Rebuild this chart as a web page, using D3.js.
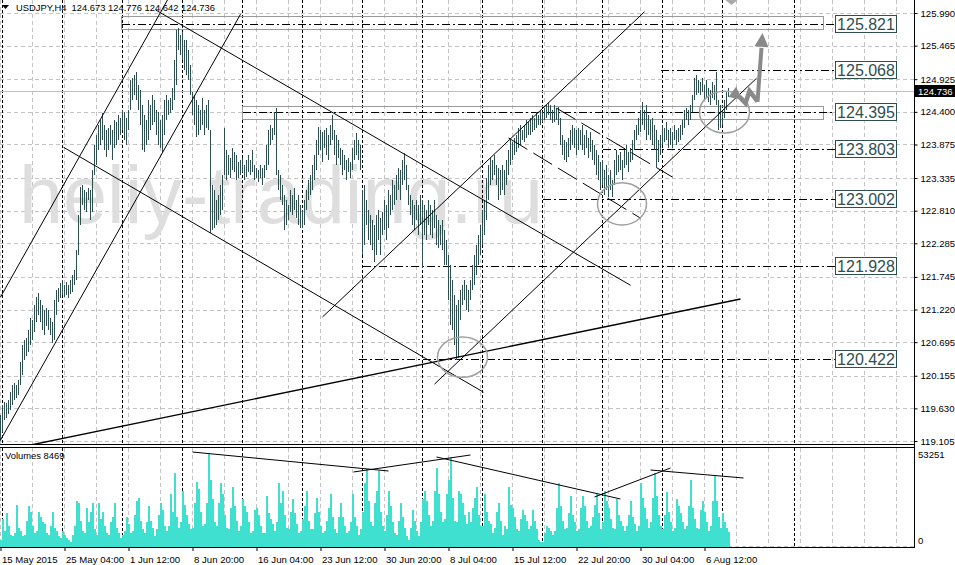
<!DOCTYPE html>
<html><head><meta charset="utf-8">
<script src="https://cdn.jsdelivr.net/npm/d3@7"></script>
<style>
html,body{margin:0;padding:0;background:#fff;}
svg{display:block;font-family:"Liberation Sans",Arial,sans-serif;}
</style></head><body>
<svg id="c" width="955" height="565"></svg>
<script>
// ---------- DATA ----------
const symbolTitle = "USDJPY,H4";
const lastOHLC = [124.673, 124.776, 124.642, 124.736];
const currentPrice = 124.736;

const highs = [
119.52,119.68,119.73,119.71,119.76,119.89,120.00,120.03,120.00,120.08,
120.37,120.65,120.73,120.76,120.89,121.08,121.05,121.29,121.42,121.48,
121.37,121.29,121.21,121.24,121.21,121.08,121.02,121.37,121.53,121.56,
121.64,121.69,121.61,121.66,121.61,121.69,121.77,121.85,122.18,122.74,
123.19,123.22,123.14,123.11,123.17,123.14,123.46,123.87,124.03,124.19,
124.27,124.38,124.19,124.11,124.14,124.19,124.11,124.27,124.24,124.35,
124.30,124.43,124.40,124.30,124.43,124.91,124.94,124.99,125.04,124.83,
124.75,124.51,124.35,124.27,124.59,124.51,124.67,124.59,124.43,124.40,
124.27,124.35,124.59,124.67,124.59,124.62,124.78,125.23,125.72,125.75,
125.64,125.69,125.56,125.56,125.40,125.15,124.72,124.67,124.59,124.51,
124.43,124.62,124.43,124.51,124.59,124.11,123.22,123.14,122.98,123.06,
123.22,123.38,124.14,123.79,123.71,123.66,123.82,123.75,123.71,123.59,
123.62,123.66,123.54,123.62,123.71,123.62,123.79,123.54,123.50,123.46,
123.54,123.50,123.54,123.87,124.11,124.19,124.14,124.40,124.46,123.46,
123.38,123.22,123.06,122.98,122.90,123.14,123.06,123.17,122.98,123.06,
122.90,122.82,122.98,123.14,123.30,123.38,123.54,123.71,123.95,124.16,
124.11,124.08,124.11,124.14,124.03,124.19,124.35,124.11,124.03,123.95,
123.82,123.79,123.71,123.62,123.66,123.59,123.82,123.95,124.06,123.95,
123.87,123.14,123.22,122.98,122.82,122.74,122.66,122.58,122.74,122.82,
122.69,122.79,122.98,122.90,123.14,123.06,123.30,123.22,123.38,123.50,
123.46,123.62,123.74,123.54,123.22,123.06,122.98,122.90,122.98,122.90,
123.06,122.98,122.90,122.82,122.98,122.90,122.82,122.98,122.74,122.66,
122.58,122.66,122.50,122.34,122.09,121.93,121.69,121.45,121.29,121.37,
121.53,121.61,121.69,121.61,121.53,121.69,121.93,122.09,122.26,122.42,
122.58,122.82,122.98,123.33,123.54,123.66,123.62,123.71,123.54,123.50,
123.46,123.54,123.46,123.62,123.79,123.95,123.91,123.98,124.03,124.14,
124.19,124.11,124.19,124.27,124.24,124.30,124.35,124.30,124.40,124.35,
124.43,124.40,124.46,124.51,124.54,124.51,124.43,124.51,124.46,124.48,
124.30,124.03,123.95,123.91,123.98,124.11,124.19,124.14,124.11,124.14,
124.11,124.19,124.03,124.11,123.98,124.08,123.95,123.87,123.79,123.71,
123.59,123.62,123.46,123.54,123.38,123.46,123.30,123.62,123.79,123.71,
123.75,123.62,123.79,123.87,123.75,123.82,123.95,124.11,124.19,124.30,
124.43,124.56,124.43,124.51,124.35,124.27,124.30,124.19,124.11,123.95,
124.03,124.19,124.14,124.24,124.11,124.14,124.08,124.19,124.11,124.14,
124.19,124.27,124.43,124.46,124.43,124.51,124.67,124.94,124.99,124.91,
124.88,124.94,124.83,124.91,124.78,124.75,124.88,124.83,125.04,124.59,
124.51,124.43,124.59,124.72,124.78
];
const lows = [
119.10,119.25,119.44,119.47,119.54,119.60,119.68,119.76,119.79,119.84,
120.00,120.16,120.40,120.48,120.53,120.65,120.73,120.86,121.02,121.13,
121.02,120.89,120.81,120.95,120.89,120.81,120.68,120.73,121.13,121.34,
121.40,121.45,121.42,121.45,121.40,121.47,121.50,121.61,121.69,122.09,
122.58,122.90,122.82,122.79,122.98,122.66,122.79,123.38,123.54,123.79,
123.87,123.95,123.79,123.67,123.79,123.87,123.62,123.82,123.87,123.95,
124.03,124.11,123.95,123.87,124.11,124.43,124.59,124.67,124.59,124.43,
124.19,123.79,123.75,123.87,123.95,124.11,124.19,124.24,124.03,123.87,
123.82,123.75,124.03,124.27,124.35,124.38,124.43,124.59,124.83,125.40,
125.32,125.23,125.07,124.99,124.91,124.67,124.35,124.19,123.99,124.03,
124.11,124.19,124.03,124.14,124.11,122.45,122.50,122.53,122.58,122.66,
122.74,122.82,123.38,123.30,123.38,123.33,123.46,123.43,123.30,123.33,
123.38,123.43,123.30,123.35,123.43,123.38,123.43,123.30,123.33,123.27,
123.33,123.22,123.33,123.46,123.54,123.87,123.95,124.03,123.38,123.14,
122.98,122.90,122.50,122.58,122.66,122.79,122.74,122.82,122.69,122.58,
122.53,122.53,122.58,122.82,122.98,123.06,123.14,123.30,123.46,123.71,
123.79,123.59,123.82,123.71,123.62,123.87,123.95,123.71,123.54,123.66,
123.54,123.38,123.46,123.30,123.43,123.33,123.46,123.62,123.71,123.62,
123.46,122.09,122.26,122.58,122.34,122.26,122.18,121.98,122.09,122.34,
122.09,122.42,122.50,122.34,122.53,122.74,122.82,122.90,122.98,123.14,
122.98,123.22,123.30,123.14,122.90,122.74,122.58,122.50,122.66,122.42,
122.58,121.89,122.42,122.34,122.58,122.42,122.37,122.53,122.26,122.21,
122.26,122.18,121.93,121.93,121.37,120.97,120.89,120.65,120.40,120.44,
121.05,121.29,121.37,121.21,121.18,121.37,121.53,121.61,121.77,121.93,
122.09,122.26,122.42,122.66,122.98,123.22,123.30,123.38,123.22,122.98,
123.06,123.14,123.06,123.22,123.38,123.54,123.62,123.71,123.75,123.82,
123.87,123.95,123.91,123.98,124.03,124.03,124.08,124.11,124.14,124.19,
124.19,124.24,124.27,124.30,124.35,124.27,124.22,124.24,124.27,124.19,
123.87,123.71,123.62,123.59,123.67,123.79,123.87,123.82,123.71,123.79,
123.87,123.79,123.71,123.82,123.66,123.75,123.62,123.54,123.38,123.30,
123.14,123.22,123.06,123.14,123.03,123.14,123.03,123.22,123.38,123.43,
123.46,123.30,123.50,123.54,123.43,123.59,123.62,123.79,123.95,124.03,
124.08,124.19,124.11,123.95,124.03,123.95,123.87,123.79,123.51,123.59,
123.71,123.87,123.91,123.95,123.82,123.87,123.82,123.95,123.87,123.91,
123.95,124.03,124.14,124.27,124.19,124.27,124.40,124.59,124.67,124.70,
124.67,124.72,124.59,124.64,124.56,124.51,124.62,124.59,124.51,124.11,
124.14,124.19,124.30,124.43,124.64
];
const volumes = [
4000,16000,9000,19000,12000,7000, 6000,8000,24000,11000,9000,6000,
7000,15000,23000,20000,12000,8000, 9000,20000,17000,14000,13000,8000,
7000,12000,20000,11000,9000,6000, 5000,9000,7000,5000,4000,3000,
7000,12000,26000,25000,15000,9000, 8000,22000,14000,20000,25000,10000,
7000,25000,16000,20000,12000,8000, 7000,14000,17000,25000,11000,8000,
5000,7000,9000,17000,13000,8000, 9000,18000,26000,28000,15000,10000,
8000,14000,23000,15000,11000,6000, 10000,18000,25000,21000,12000,9000,
12000,30000,20000,42000,17000,11000, 14000,32000,24000,18000,13000,10000,
11000,25000,37000,33000,20000,12000, 13000,25000,53251,38000,27000,14000,
12000,25000,36000,30000,18000,11000, 10000,22000,34000,23000,15000,9000,
12000,27000,23000,20000,14000,8000, 9000,21000,22000,18000,12000,8000,
8000,29000,19000,16000,13000,9000, 14000,36000,25000,32000,18000,11000,
10000,20000,27000,19000,13000,8000, 9000,16000,23000,32000,15000,10000,
10000,19000,28000,20000,12000,8000, 9000,15000,22000,30000,17000,10000,
8000,17000,25000,17000,12000,8000, 9000,14000,30000,17000,12000,7000,
10000,20000,36000,44000,26000,14000, 12000,25000,32000,43000,20000,12000,
9000,18000,32000,23000,14000,8000, 7000,15000,25000,17000,11000,6000,
4000,11000,21000,15000,9000,6000, 14000,27000,32000,26000,18000,12000,
15000,32000,45000,30000,20000,14000, 16000,30000,38000,51000,28000,15000,
14000,32000,30000,25000,18000,13000, 20000,
14000,22000,28000,34000,18000,12000, 12000,30000,20000,15000,13000,8000,
11000,20000,25000,15000,7000,12000, 10000,34000,24000,22000,17000,10000,
9000,16000,21000,18000,15000,10000, 12000,21000,15000,10000,4000,3000,
3000,8000,12000,11000,9000,7000, 9000,22000,36000,23000,15000,10000,
11000,19000,29000,18000,14000,9000, 10000,22000,29000,23000,15000,11000,
12000,17000,24000,30000,19000,10000, 14000,32000,26000,22000,16000,11000,
10000,27000,18000,15000,12000,9000, 12000,18000,26000,17000,13000,9000,
12000,36000,28000,22000,16000,11000, 14000,28000,42000,29000,18000,12000,
10000,18000,31000,20000,14000,9000, 11000,27000,23000,19000,14000,10000,
12000,23000,38000,22000,16000,11000, 10000,21000,26000,20000,14000,9000,
12000,26000,40000,26000,17000,11000, 19000,14000,11000,8469
];
const volumeMax = 53251;

const priceTicks = [125.990,125.465,124.925,124.400,123.875,123.335,122.810,122.285,121.745,121.220,120.695,120.155,119.630,119.105];
const dateLabels = ["15 May 2015","25 May 04:00","1 Jun 12:00","8 Jun 20:00","16 Jun 04:00","23 Jun 12:00","30 Jun 20:00","8 Jul 04:00","15 Jul 12:00","22 Jul 20:00","30 Jul 04:00","6 Aug 12:00"];
const dateTickBars = [0,32,64,96,128,160,192,224,256,288,320,352];
const separatorBars = [1,31,61,91,121,151,181,211,241,271,301,331,361,397];

const levelPrices = [125.821,125.068,124.395,123.803,123.002,121.928,120.422];
const levelStartBars = [60.5,330,121,301,271,181,179];
const levelEndBar = 417.25;

const zoneStartBars = [60.5,121];
const zoneEndBar = 411.25;
const zoneTops = [125.947,124.494];
const zoneBottoms = [125.728,124.280];

const trendLines = [
  [0,119.12,120,125.97],
  [0,121.42,83.5,126.20],
  [77.5,126.04,315,121.61],
  [31.5,123.83,241.5,119.89],
  [161,121.10,322,126.01],
  [217,120.02,378,124.94]
];
const supportLine = [15,119.04,370,121.39];
const dashedTrendLines = [
  [254,123.98,320,122.69],
  [278,124.46,336,123.35]
];
const volumeLines = [
  [96,53800,194,43050],
  [176.5,42490,235,52120],
  [218,51000,310,27190],
  [297,28325,335,44750],
  [325,43620,371.5,39090]
];
const ellipses = [
  [218.5,120.78,243.5,120.13],
  [298.5,123.26,323,122.58],
  [349.5,124.73,374.5,124.06]
];
const upArrow = [378.5,124.56,381,125.67];
const zigzagBars = [378.5,374.5,372.5,368,364];
const zigzagPrices = [124.57,124.735,124.54,124.69,124.64];
const topMarkBars = [362,369,365.5];
const topMarkPrices = [126.21,126.21,126.12];

// ---------- SCALES ----------
const plotRight = 914;
const priceBottom = 444, volTop = 448, volBottom = 547;
const svg = d3.select("#c");
const xScale = d3.scaleLinear().domain([0,1]).range([0.5,2.5]);
const yScale = d3.scaleLinear().domain([119.105,125.990]).range([441,13]);
const vScale = d3.scaleLinear().domain([0,volumeMax]).range([volBottom,453]);

const defs = svg.append("defs");
defs.append("clipPath").attr("id","cp").append("rect").attr("x",0).attr("y",0).attr("width",plotRight).attr("height",priceBottom);
defs.append("clipPath").attr("id","cv").append("rect").attr("x",0).attr("y",volTop).attr("width",plotRight).attr("height",volBottom-volTop);

svg.append("rect").attr("width",955).attr("height",565).attr("fill","#fff");
const gp = svg.append("g").attr("clip-path","url(#cp)");
const gv = svg.append("g").attr("clip-path","url(#cv)");

// grid
const gridBars = d3.range(0,460,16);
[[gp,0,priceBottom],[gv,volTop,volBottom]].forEach(([g,y0,y1])=>{
  g.append("g").selectAll("line").data(gridBars).join("line")
    .attr("x1",d=>xScale(d)).attr("x2",d=>xScale(d)).attr("y1",y0).attr("y2",y1)
    .attr("stroke","#c4c4c4").attr("stroke-dasharray","4,3").attr("shape-rendering","crispEdges");
});
gp.append("g").selectAll("line").data(priceTicks).join("line")
  .attr("x1",0).attr("x2",plotRight).attr("y1",d=>Math.round(yScale(d))+0.5).attr("y2",d=>Math.round(yScale(d))+0.5)
  .attr("stroke","#c4c4c4").attr("stroke-dasharray","4,3").attr("shape-rendering","crispEdges");
gv.append("line").attr("x1",0).attr("x2",plotRight).attr("y1",volBottom-0.5).attr("y2",volBottom-0.5)
  .attr("stroke","#c4c4c4").attr("stroke-dasharray","4,3");

// watermark
gp.append("text").attr("x",19).attr("y",223).attr("font-size",82).attr("fill","#dedede")
  .attr("textLength",524).attr("lengthAdjust","spacingAndGlyphs").text("heliy-trading.ru");

// separators
[[gp,0,priceBottom],[gv,volTop,volBottom]].forEach(([g,y0,y1])=>{
  g.append("g").selectAll("line").data(separatorBars).join("line")
    .attr("x1",d=>xScale(d)).attr("x2",d=>xScale(d)).attr("y1",y0).attr("y2",y1)
    .attr("stroke","#000").attr("stroke-dasharray","3,2").attr("shape-rendering","crispEdges");
});

// current price line
gp.append("line").attr("x1",0).attr("x2",plotRight)
  .attr("y1",Math.round(yScale(currentPrice))+0.5).attr("y2",Math.round(yScale(currentPrice))+0.5)
  .attr("stroke","#c0c0c0").attr("shape-rendering","crispEdges");

// zones
gp.append("g").selectAll("rect").data(zoneStartBars).join("rect")
  .attr("x",d=>xScale(d)).attr("width",(d)=>xScale(zoneEndBar)-xScale(d))
  .attr("y",(d,i)=>Math.round(yScale(zoneTops[i]))+0.5)
  .attr("height",(d,i)=>Math.round(yScale(zoneBottoms[i]))-Math.round(yScale(zoneTops[i])))
  .attr("fill","none").attr("stroke","#9a9a9a").attr("shape-rendering","crispEdges");

// level lines
gp.append("g").selectAll("line").data(levelPrices).join("line")
  .attr("x1",(d,i)=>xScale(levelStartBars[i])).attr("x2",xScale(levelEndBar))
  .attr("y1",d=>Math.round(yScale(d))+0.5).attr("y2",d=>Math.round(yScale(d))+0.5)
  .attr("stroke","#000").attr("stroke-dasharray","8,3,2,3").attr("shape-rendering","crispEdges");

// price bars
gp.append("g").selectAll("line").data(highs).join("line")
  .attr("x1",(d,i)=>xScale(i)).attr("x2",(d,i)=>xScale(i))
  .attr("y1",d=>yScale(d)).attr("y2",(d,i)=>yScale(lows[i]))
  .attr("stroke","#2f4f4f").attr("stroke-width",1).attr("shape-rendering","crispEdges");

// trend lines
gp.append("g").selectAll("line").data(trendLines).join("line")
  .attr("x1",d=>xScale(d[0])).attr("y1",d=>yScale(d[1])).attr("x2",d=>xScale(d[2])).attr("y2",d=>yScale(d[3]))
  .attr("stroke","#000").attr("stroke-width",1);
gp.append("line").attr("x1",xScale(supportLine[0])).attr("y1",yScale(supportLine[1]))
  .attr("x2",xScale(supportLine[2])).attr("y2",yScale(supportLine[3]))
  .attr("stroke","#000").attr("stroke-width",1.4);
gp.append("g").selectAll("line").data(dashedTrendLines).join("line")
  .attr("x1",d=>xScale(d[0])).attr("y1",d=>yScale(d[1])).attr("x2",d=>xScale(d[2])).attr("y2",d=>yScale(d[3]))
  .attr("stroke","#000").attr("stroke-width",1).attr("stroke-dasharray","22,7");

// ellipses
gp.append("g").selectAll("ellipse").data(ellipses).join("ellipse")
  .attr("cx",d=>(xScale(d[0])+xScale(d[2]))/2).attr("cy",d=>(yScale(d[1])+yScale(d[3]))/2)
  .attr("rx",d=>(xScale(d[2])-xScale(d[0]))/2).attr("ry",d=>(yScale(d[3])-yScale(d[1]))/2)
  .attr("fill","none").attr("stroke","#a0a0a0").attr("stroke-width",1.5);

// arrows
function arrowHead(g,x0,y0,x1,y1,len,half){
  const a=Math.atan2(y1-y0,x1-x0);
  const bx=x1-len*Math.cos(a), by=y1-len*Math.sin(a);
  const px=-Math.sin(a)*half, py=Math.cos(a)*half;
  g.append("path").attr("d",`M${x1},${y1}L${bx+px},${by+py}L${bx-px},${by-py}Z`).attr("fill","#8a8a8a");
  return [bx,by];
}
{
  const x0=xScale(upArrow[0]),y0=yScale(upArrow[1]),x1=xScale(upArrow[2]),y1=yScale(upArrow[3]);
  const [bx,by]=arrowHead(gp,x0,y0,x1,y1,14,7);
  gp.append("line").attr("x1",x0).attr("y1",y0).attr("x2",bx).attr("y2",by+1).attr("stroke","#8a8a8a").attr("stroke-width",4);
}
{
  const pts=zigzagBars.map((b,i)=>[xScale(b),yScale(zigzagPrices[i])]);
  const n=pts.length;
  const [bx,by]=arrowHead(gp,pts[n-2][0],pts[n-2][1],pts[n-1][0],pts[n-1][1],11,7);
  const linePts=pts.slice(0,n-1).concat([[bx,by]]);
  gp.append("path").attr("d",d3.line()(linePts)).attr("fill","none").attr("stroke","#8a8a8a").attr("stroke-width",4.5).attr("stroke-linejoin","miter");
}
gp.append("path").attr("d",d3.line()(topMarkBars.map((b,i)=>[xScale(b),yScale(topMarkPrices[i])]))+"Z").attr("fill","#aaaaaa");

// volume bars
gv.append("g").selectAll("rect").data(volumes).join("rect")
  .attr("x",(d,i)=>xScale(i)-0.5).attr("width",2)
  .attr("y",d=>vScale(d)).attr("height",d=>volBottom-vScale(d))
  .attr("fill","#40e0d0").attr("shape-rendering","crispEdges");
gv.append("g").selectAll("line").data(volumeLines).join("line")
  .attr("x1",d=>xScale(d[0])).attr("y1",d=>vScale(d[1])).attr("x2",d=>xScale(d[2])).attr("y2",d=>vScale(d[3]))
  .attr("stroke","#000").attr("stroke-width",1);

// borders
const bl = svg.append("g").attr("stroke","#000").attr("shape-rendering","crispEdges");
bl.append("line").attr("x1",0).attr("x2",plotRight).attr("y1",444.5).attr("y2",444.5);
bl.append("line").attr("x1",0).attr("x2",plotRight).attr("y1",447.5).attr("y2",447.5);
bl.append("line").attr("x1",0).attr("x2",plotRight+0.5).attr("y1",547.5).attr("y2",547.5);
bl.append("line").attr("x1",plotRight+0.5).attr("x2",plotRight+0.5).attr("y1",0).attr("y2",548);

// price axis
const ya = svg.append("g").attr("transform",`translate(${plotRight+0.5},0)`)
  .call(d3.axisRight(yScale).tickValues(priceTicks).tickFormat(d3.format(".3f")).tickSize(3).tickPadding(3));
ya.select(".domain").remove();
ya.selectAll("text").attr("font-size",9.6).attr("font-family","Liberation Sans, Arial, sans-serif").attr("fill","#000");
ya.selectAll("line").attr("stroke","#000");

// volume axis labels
const va = svg.append("g").attr("font-size",9.6).attr("fill","#000");
va.append("text").attr("x",918).attr("y",vScale(volumeMax)+5).text(d3.format("d")(volumeMax));
va.append("text").attr("x",918).attr("y",vScale(0)-3).text("0");

// date axis
const xa = svg.append("g").attr("transform","translate(0,548)")
  .call(d3.axisBottom(xScale).tickValues(dateTickBars).tickFormat((d,i)=>dateLabels[i]).tickSize(3).tickPadding(3));
xa.select(".domain").remove();
xa.selectAll("text").attr("text-anchor","start").attr("x",1).attr("dy","0.95em").attr("font-size",9.6).attr("font-family","Liberation Sans, Arial, sans-serif").attr("fill","#000");
xa.selectAll("line").attr("stroke","#000");

// level labels
const ll = svg.append("g").selectAll("g").data(levelPrices).join("g")
  .attr("transform",d=>`translate(835,${Math.round(yScale(d))})`);
ll.append("rect").attr("x",0.5).attr("y",-8.5).attr("width",61).attr("height",17)
  .attr("fill","#fff").attr("stroke","#2f4f4f").attr("shape-rendering","crispEdges");
ll.append("text").attr("x",31).attr("y",6).attr("text-anchor","middle").attr("font-size",16)
  .attr("fill","#2f4f4f").text(d=>d3.format(".3f")(d));

// current price label
{
  const cy=Math.round(yScale(currentPrice));
  svg.append("rect").attr("x",plotRight+1).attr("y",cy-6).attr("width",41).attr("height",12).attr("fill","#000");
  svg.append("text").attr("x",plotRight+4).attr("y",cy+3.5).attr("font-size",9.6).attr("fill","#fff").text(d3.format(".3f")(currentPrice));
}

// title
svg.append("path").attr("d","M2,5L9,5L5.5,9Z").attr("fill","#000");
svg.append("text").attr("x",16).attr("y",11).attr("font-size",9.4).attr("fill","#000")
  .attr("xml:space","preserve").style("white-space","pre")
  .text(symbolTitle+"  "+lastOHLC.map(d3.format(".3f")).join(" "));
svg.append("text").attr("x",5).attr("y",459).attr("font-size",9.4).attr("fill","#000")
  .text("Volumes "+volumes[volumes.length-1]);
</script>
</body></html>
